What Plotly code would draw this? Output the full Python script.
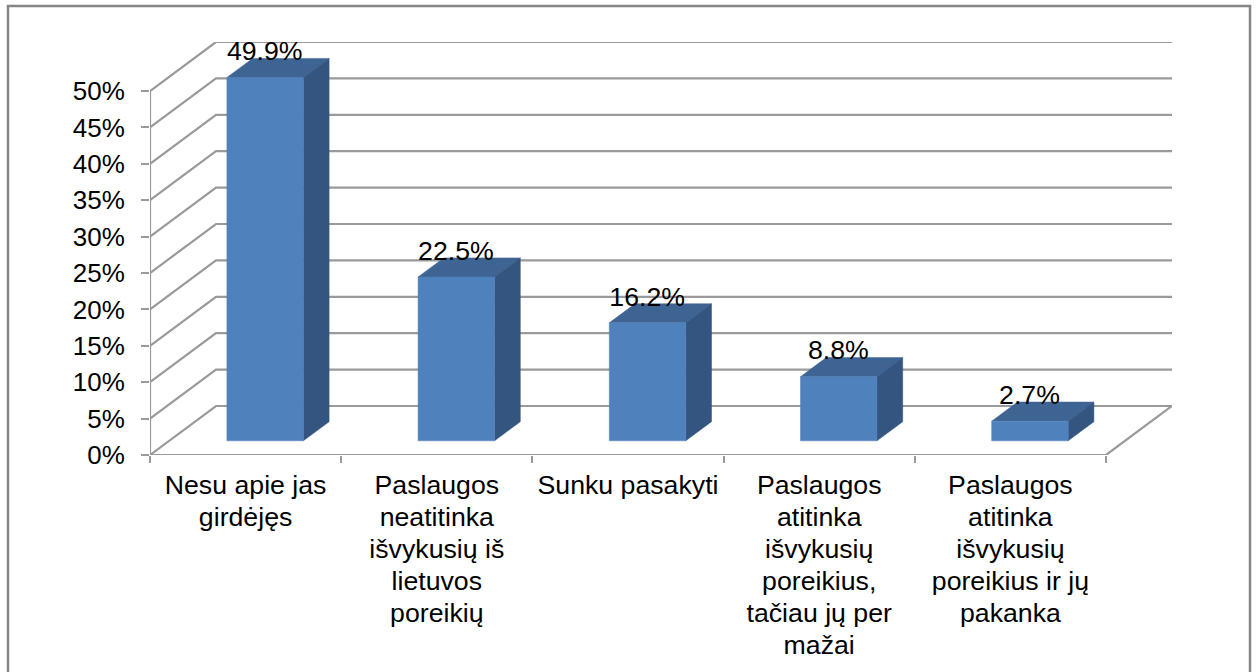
import plotly.graph_objects as go

categories = [
    "Nesu apie jas<br>girdėjęs",
    "Paslaugos<br>neatitinka<br>išvykusių iš<br>lietuvos<br>poreikių",
    "Sunku pasakyti",
    "Paslaugos<br>atitinka<br>išvykusių<br>poreikius,<br>tačiau jų per<br>mažai",
    "Paslaugos<br>atitinka<br>išvykusių<br>poreikius ir jų<br>pakanka",
]
values = [49.9, 22.5, 16.2, 8.8, 2.7]
value_labels = ["49.9%", "22.5%", "16.2%", "8.8%", "2.7%"]
y_ticks = [0, 5, 10, 15, 20, 25, 30, 35, 40, 45, 50]

W, H = 1256, 672
L, R, T, B = 150, 84, 42, 217          # plot area margins
PX_CAT = 191.2
PX_PCT = 7.28
DEPTH_X = 66 / PX_CAT                  # wall depth in category units
DEPTH_Y = 49 / PX_PCT                  # wall depth in percent units
GAP = 0.302
BAR_W = 0.4
D0, D1 = 0.29, 0.68                    # bar depth span
GRID = "#9A9A9A"
FRONT, SIDE, TOP = "#4F81BD", "#335580", "#3E6493"
FONT = "Liberation Sans"
LABEL_PX = 26.7
n = len(values)
x_max = n + DEPTH_X
y_max = (H - T - B) / PX_PCT


def proj(c, v, d):
    return c + d * DEPTH_X, v + d * DEPTH_Y


def line(pts, width=2.2):
    return go.Scatter(x=[p[0] for p in pts], y=[p[1] for p in pts], mode="lines",
                      line=dict(color=GRID, width=width), hoverinfo="skip", showlegend=False,
                      cliponaxis=False)


def poly(pts, color):
    xs = [p[0] for p in pts] + [pts[0][0]]
    ys = [p[1] for p in pts] + [pts[0][1]]
    return go.Scatter(x=xs, y=ys, mode="lines", fill="toself", fillcolor=color,
                      line=dict(color=color, width=0.5), hoverinfo="skip", showlegend=False,
                      cliponaxis=False)


def tick_text(label):
    # line spacing follows the axis font; the glyphs are sized on each line
    return "<br>".join(f'<span style="font-size:{LABEL_PX}px">{part}</span>'
                       for part in label.split("<br>"))


fig = go.Figure()

# walls
for v in y_ticks:
    fig.add_trace(line([proj(0, v, 0), proj(0, v, 1), proj(n, v, 1)]))
fig.add_trace(line([proj(0, 0, 0), proj(0, y_ticks[-1], 0)]))
fig.add_trace(line([proj(0, 0, 0), proj(n, 0, 0), proj(n, 0, 1)]))

# bars
for i, v in enumerate(values):
    a, b = i + GAP, i + GAP + BAR_W
    fig.add_trace(poly([proj(a, v, D0), proj(b, v, D0), proj(b, v, D1), proj(a, v, D1)], TOP))
    fig.add_trace(poly([proj(b, 0, D0), proj(b, 0, D1), proj(b, v, D1), proj(b, v, D0)], SIDE))
    fig.add_trace(poly([proj(a, 0, D0), proj(b, 0, D0), proj(b, v, D0), proj(a, v, D0)], FRONT))

# data labels
label_pts = [proj(i + 0.5, v + 3.3, D0) for i, v in enumerate(values)]
fig.add_trace(go.Scatter(x=[p[0] for p in label_pts], y=[p[1] for p in label_pts], mode="text",
                         text=value_labels, textposition="middle center",
                         textfont=dict(family=FONT, size=LABEL_PX, color="black"),
                         hoverinfo="skip", showlegend=False, cliponaxis=False))

fig.update_layout(
    width=W, height=H,
    margin=dict(l=L, r=R, t=T, b=B, pad=0, autoexpand=False),
    paper_bgcolor="white", plot_bgcolor="white",
    showlegend=False,
    font=dict(family=FONT, size=26, color="black"),
    xaxis=dict(range=[0, x_max], showgrid=False, zeroline=False, showline=False,
               tickmode="array", tickvals=[i + 0.5 for i in range(n)],
               ticktext=[tick_text(c) for c in categories],
               tickfont=dict(family=FONT, size=24.6, color="black"),
               ticks="", ticklabelstandoff=13, tickangle=0,
               minor=dict(tickmode="array", tickvals=list(range(n + 1)), ticks="outside",
                          ticklen=7, tickwidth=2, tickcolor=GRID, showgrid=False)),
    yaxis=dict(range=[0, y_max], showgrid=False, zeroline=False, showline=False,
               tickmode="array", tickvals=y_ticks, ticktext=[f"{v}%" for v in y_ticks],
               ticks="outside", ticklen=8, tickwidth=2, tickcolor=GRID, ticklabelstandoff=11),
    shapes=[dict(type="rect", xref="paper", yref="paper",
                 x0=(8 - L) / (W - L - R), x1=(1250 - L) / (W - L - R),
                 y0=(H - 720 - B) / (H - T - B), y1=(H - 6 - B) / (H - T - B),
                 line=dict(color="#868686", width=2.5), fillcolor="rgba(0,0,0,0)", layer="below")],
)

fig.write_html("out.html", config={"displayModeBar": False},
               post_script="document.body.style.margin='0';")
